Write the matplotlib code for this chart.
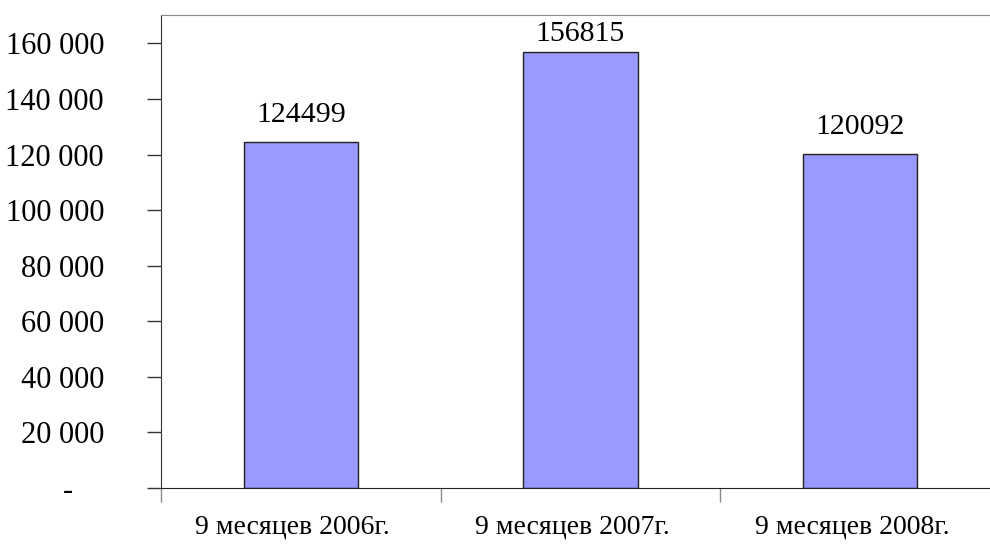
import matplotlib
matplotlib.use("Agg")
import matplotlib.pyplot as plt
import matplotlib.transforms as mtransforms
from matplotlib.ticker import FixedLocator, FuncFormatter

categories = ["9 месяцев 2006г.", "9 месяцев 2007г.", "9 месяцев 2008г."]
values = [124499, 156815, 120092]
yticks = [0, 20000, 40000, 60000, 80000, 100000, 120000, 140000, 160000]

plt.rcParams['font.family'] = ['Liberation Serif', 'DejaVu Serif']
fig = plt.figure(figsize=(9.9, 5.47), dpi=100)
ax = fig.add_axes([161/990, 1-488/547, 839/990, (488-15)/547])

ymax = 170200
x = list(range(len(categories)))
ax.bar(x, values, width=0.41, color='#9999ff', edgecolor='#222222', linewidth=1.0, zorder=2)
for xi, v in zip(x, values):
    # labels are kept inside the plot area (as Excel does)
    ly = min(v + 5000, ymax - 11500)
    ax.text(xi, ly, str(v), ha='center', va='bottom', fontsize=21.5)

ax.set_xlim(-0.5, 2.5)
ax.set_ylim(0, ymax)
ax.yaxis.set_major_locator(FixedLocator(yticks))
def fmt(v, pos):
    if v == 0:
        return "-    "
    return f"{int(v):,}".replace(",", " ")
ax.yaxis.set_major_formatter(FuncFormatter(fmt))
ax.tick_params(axis='y', direction='out', length=10, width=1, color='#333333', labelsize=22, pad=31)

ax.set_xticks([-0.5, 0.5, 1.5, 2.5])
ax.set_xticklabels([])
ax.set_xticks(x, minor=True)
ax.set_xticklabels(categories, minor=True)
ax.tick_params(axis='x', which='major', direction='out', length=10, width=1, color='#888888')
ax.tick_params(axis='x', which='minor', length=0, labelsize=20, pad=19)
shift = mtransforms.ScaledTranslation(-8/100, 0, fig.dpi_scale_trans)
for lab in ax.get_xticklabels(minor=True):
    lab.set_transform(lab.get_transform() + shift)

ax.spines['left'].set_color('#333333')
ax.spines['bottom'].set_color('#222222')
ax.spines['top'].set_color('#888888')
ax.spines['right'].set_visible(False)

fig.savefig("out.png", dpi=100)
